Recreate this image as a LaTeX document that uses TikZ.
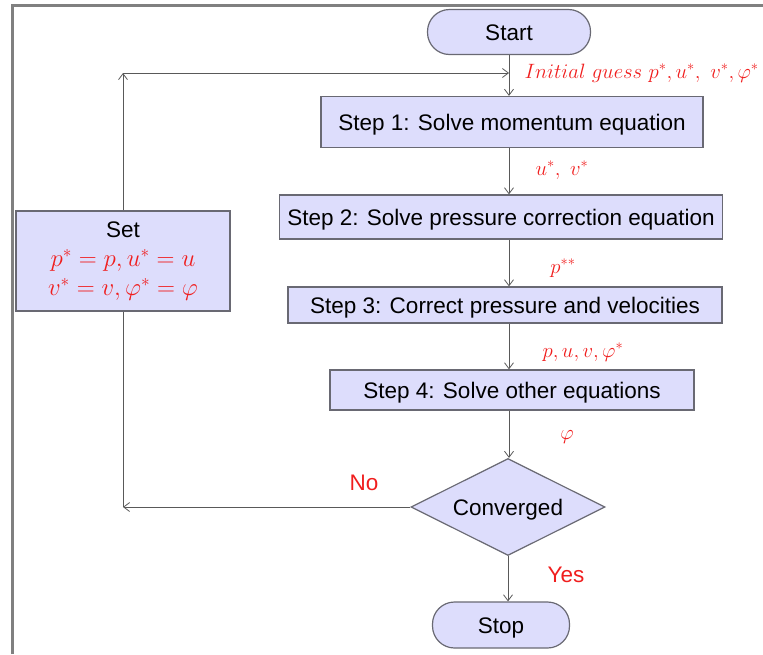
\documentclass[tikz,border=0pt]{standalone}
\usepackage{fontspec}
\setmainfont{Liberation Sans}
\usetikzlibrary{shapes.geometric,arrows.meta}
\definecolor{boxfill}{RGB}{221,221,252}
\definecolor{boxline}{RGB}{105,105,115}
\definecolor{lblred}{RGB}{240,30,30}
\definecolor{framegray}{RGB}{128,128,128}

\begin{document}
\begin{tikzpicture}[x=1pt,y=-1pt,
  every node/.style={font=\fontsize{22.5}{29}\selectfont},
  >={Straight Barb[length=6pt,width=9pt]},
  proc/.style={draw=boxline,fill=boxfill,line width=1.2pt,inner sep=0pt},
  oneline/.style={proc,text height=16pt,text depth=0pt},
  term/.style={oneline,rounded corners=22pt},
  dec/.style={oneline,diamond,aspect=2},
  lbl/.style={text=lblred},
  ln/.style={draw=black!65,line width=0.8pt}]
  \useasboundingbox (0,0) rectangle (763,654);
  % frame
  \draw[framegray,line width=3pt] (12.5,654) -- (12.5,5.5) -- (763,5.5);

  % main column
  \node[term,minimum width=163pt,minimum height=45pt] (start) at (509,32) {Start};
  \node[oneline,minimum width=382pt,minimum height=51pt] (step1) at (512,122) {Step 1: Solve momentum equation};
  \node[oneline,minimum width=443pt,minimum height=44pt] (step2) at (501,217) {Step 2: Solve pressure correction equation};
  \node[oneline,minimum width=434pt,minimum height=36pt] (step3) at (505,305) {Step 3: Correct pressure and velocities};
  \node[oneline,minimum width=364pt,minimum height=40pt] (step4) at (512,390) {Step 4: Solve other equations};
  \node[dec,minimum width=194pt,minimum height=97pt] (conv) at (508,507) {Converged};
  \node[term,minimum width=137pt,minimum height=46pt] (stop) at (501,625) {Stop};

  % update box
  \node[proc,minimum width=214pt,minimum height=100pt,align=center,
        font=\fontsize{24}{29}\selectfont] (set) at (123,261)
    {\fontsize{22.5}{29}\selectfont Set\\\textcolor{lblred}{$p^*=p, u^*=u$}\\\textcolor{lblred}{$v^*=v, \varphi^*=\varphi$}};

  % labels
  \node[lbl,anchor=west] (init) at (521,73) {$Initial\ guess\ p^*,u^*,\ v^*,\varphi^*$};
  \node[lbl] (uv) at (562,170) {$u^*,\ v^*$};
  \node[lbl] (pss) at (563,268) {$p^{**}$};
  \node[lbl] (puv) at (583,352) {$p,u,v,\varphi^*$};
  \node[lbl] (phi) at (567,437) {$\varphi$};
  \node[lbl] (no) at (364,483) {No};
  \node[lbl] (yes) at (566,575) {Yes};

  % connectors
  \draw[ln,->] (start) -- (start |- step1.north);
  \draw[ln,->] (step1.south -| start) -- (step2.north -| start);
  \draw[ln,->] (step2.south -| start) -- (step3.north -| start);
  \draw[ln,->] (step3.south -| start) -- (step4.north -| start);
  \draw[ln,->] (step4.south -| start) -- (conv.north -| start);
  \draw[ln,->] (conv) -- (conv |- stop.north);

  % loop back
  \coordinate (corner) at (set |- init);
  \coordinate (junc) at (set |- conv);
  \draw[ln,->] (set) -- (corner);
  \draw[ln,->] (corner) -- (corner -| start);
  \draw[ln,->] (conv) -- (junc);
  \draw[ln] (set) -- (junc);
\end{tikzpicture}
\end{document}
